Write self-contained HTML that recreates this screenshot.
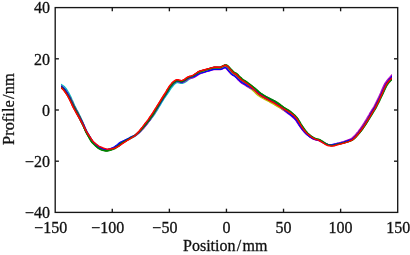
<!DOCTYPE html>
<html><head><meta charset="utf-8"><style>
html,body{margin:0;padding:0;background:#fff;}
svg{display:block;filter:grayscale(0) blur(0.35px);}
text{font-family:"Liberation Serif",serif;font-size:16px;fill:#111;stroke:#111;stroke-width:0.3px;}
</style></head><body>
<svg width="410" height="255" viewBox="0 0 410 255">
<rect width="410" height="255" fill="#fff"/>
<clipPath id="c"><rect x="60.9" y="0" width="331.2" height="255"/></clipPath>
<g fill="none" stroke-width="1.4" stroke-linejoin="round" stroke-linecap="butt" clip-path="url(#c)">
<path d="M57.0,84.9 L58.0,85.2 L59.0,85.6 L60.0,86.1 L61.0,86.5 L62.0,87.1 L63.0,87.8 L64.0,88.8 L65.0,90.0 L65.9,91.4 L66.9,92.9 L67.8,94.6 L68.7,96.3 L69.6,98.2 L70.5,100.2 L71.4,102.3 L72.3,104.4 L73.3,106.5 L74.3,108.5 L75.2,110.3 L76.2,112.2 L77.2,114.0 L78.2,115.8 L79.2,117.7 L80.2,119.6 L81.2,121.6 L82.3,123.6 L83.3,125.7 L84.3,128.0 L85.4,130.2 L86.4,132.3 L87.5,134.0 L88.5,135.7 L89.6,137.4 L90.6,139.1 L91.6,140.7 L92.7,142.1 L93.7,143.1 L94.7,144.0 L95.7,144.9 L96.7,145.8 L97.7,146.7 L98.8,147.4 L99.8,147.9 L100.8,148.3 L101.9,148.8 L102.9,149.2 L104.0,149.4 L105.0,149.5 L106.0,149.7 L107.0,149.8 L108.0,149.5 L109.0,149.2 L109.9,148.9 L110.9,148.5 L111.8,148.1 L112.8,147.7 L113.7,147.3 L114.6,146.7 L115.5,146.0 L116.4,145.4 L117.3,144.7 L118.2,143.9 L119.2,143.1 L120.2,142.4 L121.3,141.8 L122.4,141.3 L123.5,140.8 L124.6,140.3 L125.6,139.8 L126.7,139.3 L127.7,138.8 L128.7,138.3 L129.7,137.7 L130.7,137.2 L131.7,136.7 L132.7,136.2 L133.8,135.8 L134.8,135.3 L135.9,134.6 L137.0,133.9 L138.1,133.1 L139.1,132.3 L140.2,131.3 L141.3,130.3 L142.4,129.2 L143.4,128.1 L144.4,126.9 L145.4,125.6 L146.4,124.3 L147.4,123.1 L148.4,121.8 L149.4,120.5 L150.4,119.1 L151.4,117.6 L152.4,116.2 L153.4,114.7 L154.4,113.2 L155.4,111.6 L156.4,109.9 L157.4,108.2 L158.3,106.5 L159.3,104.9 L160.3,103.2 L161.3,101.5 L162.2,99.8 L163.2,98.2 L164.2,96.6 L165.2,95.1 L166.2,93.6 L167.2,92.0 L168.2,90.3 L169.2,88.7 L170.2,87.2 L171.2,85.9 L172.2,84.7 L173.2,83.6 L174.1,82.7 L175.1,82.0 L176.0,81.3 L177.0,80.9 L178.0,81.0 L179.0,81.3 L180.0,81.6 L181.0,81.9 L182.1,82.0 L183.1,81.6 L184.2,81.1 L185.2,80.5 L186.2,79.9 L187.2,79.2 L188.2,78.5 L189.2,78.0 L190.2,77.7 L191.2,77.5 L192.2,77.2 L193.2,76.9 L194.3,76.4 L195.3,75.7 L196.3,75.0 L197.3,74.4 L198.3,73.7 L199.3,73.2 L200.3,72.8 L201.3,72.5 L202.2,72.2 L203.2,72.0 L204.3,71.7 L205.3,71.5 L206.3,71.2 L207.3,71.0 L208.3,70.7 L209.3,70.5 L210.3,70.2 L211.3,69.9 L212.2,69.7 L213.2,69.4 L214.1,69.2 L215.1,69.1 L216.0,69.1 L217.0,69.0 L218.1,69.0 L219.1,69.0 L220.2,69.0 L221.3,68.7 L222.3,68.3 L223.3,67.8 L224.1,67.4 L224.9,67.1 L225.6,67.2 L226.4,67.8 L227.3,68.8 L228.2,70.0 L229.1,71.2 L230.1,72.4 L231.1,73.5 L232.1,74.5 L233.1,75.1 L234.1,75.6 L235.0,76.3 L236.0,77.2 L237.0,78.2 L237.9,79.2 L239.0,80.3 L240.0,81.3 L241.0,82.1 L242.1,82.8 L243.1,83.4 L244.1,84.1 L245.1,84.7 L246.1,85.4 L247.1,86.1 L248.1,86.7 L249.3,87.3 L250.4,87.9 L251.5,88.5 L252.7,89.2 L253.8,89.8 L255.0,90.6 L256.1,91.3 L257.2,92.1 L258.3,92.8 L259.3,93.4 L260.4,94.0 L261.4,94.6 L262.4,95.2 L263.4,95.8 L264.4,96.4 L265.4,97.0 L266.3,97.6 L267.3,98.2 L268.3,98.7 L269.3,99.2 L270.3,99.8 L271.3,100.3 L272.3,100.8 L273.3,101.3 L274.3,101.9 L275.3,102.5 L276.3,103.2 L277.2,104.0 L278.2,104.8 L279.1,105.7 L279.9,106.5 L280.8,107.4 L281.8,108.2 L282.7,109.0 L283.6,109.7 L284.6,110.4 L285.5,111.1 L286.5,111.8 L287.4,112.5 L288.4,113.3 L289.4,114.0 L290.3,114.7 L291.3,115.5 L292.2,116.3 L293.2,117.1 L294.1,118.1 L295.1,119.1 L296.1,120.3 L297.1,121.8 L298.2,123.4 L299.2,125.0 L300.3,126.5 L301.3,127.9 L302.4,129.3 L303.4,130.5 L304.4,131.7 L305.5,132.9 L306.5,133.9 L307.5,134.8 L308.6,135.7 L309.6,136.5 L310.7,137.2 L311.7,137.8 L312.8,138.4 L313.8,138.9 L314.9,139.2 L315.9,139.5 L316.9,139.7 L317.9,139.9 L318.9,140.2 L319.9,140.6 L320.9,141.1 L321.9,141.7 L322.9,142.3 L323.9,142.8 L325.0,143.4 L326.0,143.8 L327.0,144.2 L328.1,144.5 L329.1,144.6 L330.1,144.7 L331.0,144.7 L332.0,144.6 L332.9,144.4 L333.9,144.2 L334.8,144.0 L335.8,143.8 L336.8,143.5 L337.8,143.3 L338.8,143.1 L339.9,142.9 L340.9,142.7 L341.9,142.4 L342.9,142.2 L343.9,141.9 L344.8,141.6 L345.8,141.3 L346.8,141.0 L347.8,140.7 L348.8,140.3 L349.8,139.9 L350.8,139.5 L351.7,139.0 L352.7,138.4 L353.7,137.6 L354.7,136.7 L355.7,135.6 L356.8,134.5 L357.8,133.4 L358.8,132.1 L359.8,130.8 L360.8,129.5 L361.8,128.2 L362.9,126.8 L363.9,125.3 L364.9,123.8 L366.0,122.2 L367.0,120.6 L368.0,119.0 L369.0,117.3 L370.0,115.6 L371.0,113.9 L372.0,112.1 L373.0,110.6 L374.0,109.0 L375.0,107.4 L376.0,105.4 L377.0,103.4 L378.0,101.4 L378.9,99.3 L379.9,97.2 L380.9,95.2 L381.8,93.0 L382.8,90.8 L383.7,88.6 L384.7,86.5 L385.7,84.6 L386.6,83.0 L387.6,81.6 L388.6,80.3 L389.5,79.1 L390.5,78.1 L391.5,77.1 L392.5,76.0 L393.5,74.9 L394.6,73.8 L395.6,72.9" stroke="#0000ff"/>
<path d="M56.9,85.1 L57.9,85.5 L58.9,85.9 L59.8,86.4 L60.8,86.8 L61.8,87.4 L62.8,88.1 L63.8,89.0 L64.7,90.2 L65.7,91.6 L66.7,93.0 L67.7,94.6 L68.7,96.3 L69.6,98.1 L70.6,100.2 L71.6,102.2 L72.6,104.3 L73.5,106.4 L74.5,108.3 L75.5,110.2 L76.5,112.0 L77.4,113.9 L78.4,115.7 L79.3,117.6 L80.3,119.6 L81.2,121.6 L82.2,123.6 L83.2,125.8 L84.2,128.0 L85.1,130.3 L86.1,132.4 L87.1,134.2 L88.0,136.0 L89.0,137.7 L90.0,139.5 L91.0,141.2 L92.0,142.6 L93.1,143.6 L94.1,144.6 L95.1,145.5 L96.2,146.5 L97.2,147.4 L98.2,148.2 L99.3,148.8 L100.4,149.3 L101.5,149.8 L102.5,150.3 L103.6,150.6 L104.7,150.8 L105.9,151.0 L107.0,151.1 L108.1,150.9 L109.2,150.6 L110.3,150.3 L111.3,150.0 L112.3,149.7 L113.4,149.3 L114.4,148.9 L115.4,148.3 L116.4,147.7 L117.4,147.0 L118.4,146.3 L119.3,145.6 L120.3,144.8 L121.3,144.0 L122.3,143.3 L123.3,142.6 L124.2,142.0 L125.2,141.4 L126.2,140.8 L127.2,140.2 L128.2,139.7 L129.2,139.1 L130.2,138.6 L131.2,138.0 L132.2,137.5 L133.2,136.9 L134.1,136.4 L135.1,135.7 L136.1,134.9 L137.1,134.1 L138.2,133.2 L139.2,132.3 L140.2,131.2 L141.2,130.1 L142.2,129.0 L143.2,127.9 L144.2,126.7 L145.2,125.4 L146.2,124.2 L147.2,123.0 L148.3,121.7 L149.3,120.4 L150.3,119.0 L151.3,117.6 L152.3,116.1 L153.3,114.6 L154.3,113.1 L155.3,111.5 L156.3,109.8 L157.3,108.2 L158.3,106.5 L159.3,104.8 L160.3,103.2 L161.2,101.5 L162.2,99.8 L163.1,98.1 L164.1,96.5 L165.0,95.0 L166.0,93.4 L166.9,91.8 L167.9,90.1 L168.9,88.5 L169.9,86.9 L170.9,85.7 L171.9,84.5 L173.0,83.4 L174.0,82.5 L175.0,81.8 L176.0,81.2 L177.0,80.8 L178.0,80.9 L179.0,81.1 L180.0,81.3 L181.0,81.5 L182.0,81.5 L183.0,81.1 L183.9,80.6 L184.9,80.1 L185.9,79.4 L186.9,78.7 L187.9,78.0 L188.9,77.4 L189.9,77.1 L190.9,76.8 L191.9,76.4 L192.9,76.1 L193.8,75.6 L194.8,74.9 L195.8,74.2 L196.8,73.5 L197.8,72.8 L198.8,72.1 L199.8,71.7 L200.8,71.3 L201.8,71.0 L202.9,70.8 L203.9,70.5 L204.9,70.2 L205.9,69.9 L206.9,69.6 L207.9,69.3 L208.9,69.0 L209.9,68.6 L210.9,68.3 L211.9,68.0 L212.9,67.7 L213.9,67.5 L214.9,67.4 L216.0,67.5 L217.0,67.5 L218.0,67.5 L218.9,67.5 L219.9,67.4 L220.8,67.0 L221.7,66.5 L222.7,66.0 L223.9,65.3 L225.1,64.9 L226.5,65.0 L227.8,65.7 L229.0,66.9 L230.1,68.1 L231.2,69.3 L232.2,70.3 L233.1,71.2 L234.0,72.1 L235.0,72.7 L236.0,73.1 L237.0,73.8 L238.1,74.8 L239.1,75.9 L240.2,76.9 L241.2,77.8 L242.1,78.7 L243.1,79.5 L244.0,80.1 L245.0,80.7 L246.0,81.3 L247.0,82.0 L248.0,82.7 L249.0,83.5 L250.0,84.3 L251.0,85.1 L252.0,85.9 L253.1,86.7 L254.1,87.5 L255.1,88.3 L256.1,89.2 L257.1,90.1 L258.1,91.0 L259.0,91.9 L260.0,92.6 L260.9,93.3 L261.8,93.9 L262.8,94.6 L263.8,95.2 L264.7,95.8 L265.7,96.4 L266.7,96.9 L267.7,97.4 L268.7,97.9 L269.7,98.4 L270.7,98.9 L271.8,99.4 L272.8,99.9 L273.8,100.4 L274.9,100.9 L275.9,101.5 L277.0,102.2 L278.0,102.9 L279.0,103.6 L280.0,104.4 L280.9,105.1 L281.9,105.8 L282.9,106.5 L283.8,107.2 L284.8,107.9 L285.8,108.5 L286.8,109.1 L287.9,109.7 L288.9,110.4 L289.9,111.1 L290.9,111.9 L291.9,112.7 L292.9,113.5 L293.9,114.4 L294.9,115.3 L295.9,116.5 L297.0,117.6 L298.0,118.9 L299.0,120.5 L300.0,122.1 L301.0,123.8 L302.0,125.3 L302.9,126.8 L303.9,128.1 L304.8,129.4 L305.7,130.6 L306.6,131.8 L307.5,132.9 L308.5,133.8 L309.4,134.6 L310.4,135.5 L311.4,136.2 L312.3,136.8 L313.3,137.5 L314.3,138.0 L315.2,138.3 L316.2,138.6 L317.2,138.9 L318.2,139.2 L319.2,139.5 L320.2,139.9 L321.2,140.5 L322.2,141.1 L323.2,141.7 L324.2,142.4 L325.1,143.0 L326.1,143.6 L327.1,144.2 L328.0,144.6 L329.0,144.9 L330.0,145.1 L331.0,145.2 L332.0,145.2 L333.0,145.1 L334.0,144.9 L335.0,144.6 L336.0,144.4 L337.0,144.1 L338.0,144.0 L339.0,143.8 L340.0,143.6 L341.0,143.4 L342.0,143.2 L343.1,142.9 L344.1,142.6 L345.1,142.3 L346.1,142.0 L347.1,141.6 L348.1,141.3 L349.1,141.0 L350.1,140.6 L351.2,140.3 L352.2,139.8 L353.3,139.1 L354.3,138.3 L355.4,137.4 L356.4,136.3 L357.5,135.1 L358.5,134.0 L359.6,132.8 L360.6,131.5 L361.7,130.1 L362.7,128.8 L363.7,127.3 L364.8,125.9 L365.8,124.4 L366.8,122.8 L367.9,121.2 L368.9,119.5 L369.9,117.9 L370.9,116.2 L372.0,114.5 L373.0,112.8 L374.0,111.2 L375.0,109.6 L376.0,108.0 L377.0,106.0 L378.0,104.0 L379.1,101.9 L380.0,99.9 L381.0,97.8 L382.0,95.7 L383.0,93.6 L384.0,91.4 L385.0,89.2 L386.0,87.2 L386.9,85.4 L388.0,83.8 L389.0,82.6 L390.0,81.5 L391.0,80.4 L392.0,79.5 L393.0,78.6 L394.0,77.6 L395.0,76.7 L395.8,75.7 L396.7,74.9" stroke="#008000"/>
<path d="M56.7,86.0 L57.6,86.4 L58.5,86.8 L59.4,87.2 L60.3,87.6 L61.2,88.1 L62.2,88.7 L63.1,89.6 L64.1,90.7 L65.1,92.0 L66.1,93.5 L67.1,95.0 L68.0,96.7 L69.0,98.5 L70.0,100.5 L71.0,102.5 L71.9,104.6 L72.9,106.7 L73.9,108.7 L74.9,110.5 L75.9,112.3 L76.9,114.1 L77.9,115.9 L79.0,117.8 L80.0,119.7 L81.0,121.7 L82.1,123.7 L83.2,125.8 L84.2,128.0 L85.3,130.2 L86.3,132.3 L87.4,134.0 L88.5,135.7 L89.5,137.4 L90.6,139.1 L91.7,140.6 L92.8,141.9 L93.9,142.8 L95.0,143.7 L96.1,144.5 L97.1,145.3 L98.2,146.1 L99.2,146.8 L100.2,147.2 L101.2,147.7 L102.2,148.1 L103.1,148.6 L104.1,148.9 L105.1,149.1 L106.0,149.4 L107.0,149.7 L108.0,149.6 L109.0,149.5 L110.0,149.4 L111.1,149.2 L112.1,149.0 L113.1,148.7 L114.2,148.4 L115.2,148.0 L116.3,147.4 L117.3,146.9 L118.3,146.3 L119.4,145.6 L120.4,144.9 L121.4,144.1 L122.4,143.4 L123.3,142.8 L124.3,142.1 L125.3,141.5 L126.2,140.9 L127.2,140.2 L128.1,139.6 L129.1,139.0 L130.0,138.3 L131.0,137.7 L131.9,137.1 L132.9,136.5 L133.9,135.9 L134.8,135.3 L135.7,134.4 L136.7,133.5 L137.6,132.6 L138.6,131.7 L139.6,130.7 L140.5,129.5 L141.5,128.4 L142.5,127.3 L143.5,126.1 L144.4,124.8 L145.4,123.5 L146.4,122.3 L147.3,121.0 L148.3,119.7 L149.3,118.3 L150.2,116.8 L151.2,115.3 L152.2,113.9 L153.2,112.4 L154.2,110.8 L155.2,109.1 L156.2,107.5 L157.2,105.8 L158.2,104.2 L159.2,102.5 L160.2,100.9 L161.2,99.2 L162.2,97.6 L163.2,96.0 L164.2,94.5 L165.3,93.0 L166.3,91.4 L167.3,89.7 L168.3,88.1 L169.3,86.5 L170.3,85.2 L171.4,84.0 L172.4,82.8 L173.5,81.9 L174.6,81.1 L175.7,80.4 L176.8,80.0 L178.0,80.1 L179.0,80.3 L180.0,80.6 L181.0,80.8 L181.8,80.7 L182.7,80.3 L183.6,79.8 L184.5,79.3 L185.5,78.6 L186.5,77.8 L187.5,77.1 L188.6,76.6 L189.6,76.3 L190.6,76.1 L191.7,75.9 L192.6,75.6 L193.6,75.1 L194.6,74.5 L195.5,73.8 L196.5,73.1 L197.5,72.4 L198.6,71.7 L199.6,71.2 L200.6,70.8 L201.7,70.5 L202.7,70.2 L203.7,69.9 L204.7,69.7 L205.7,69.4 L206.7,69.1 L207.8,68.8 L208.8,68.6 L209.8,68.3 L210.8,68.0 L211.8,67.7 L212.9,67.4 L213.9,67.2 L214.9,67.2 L216.0,67.2 L217.0,67.2 L217.9,67.3 L218.9,67.3 L219.8,67.3 L220.8,67.1 L221.8,66.7 L222.8,66.2 L223.9,65.7 L225.1,65.4 L226.2,65.7 L227.3,66.4 L228.3,67.6 L229.4,68.8 L230.4,70.0 L231.4,71.1 L232.3,72.0 L233.3,72.9 L234.4,73.5 L235.4,73.9 L236.4,74.6 L237.4,75.6 L238.4,76.7 L239.4,77.7 L240.3,78.7 L241.3,79.7 L242.3,80.5 L243.3,81.1 L244.3,81.7 L245.2,82.3 L246.2,83.0 L247.3,83.7 L248.3,84.5 L249.3,85.2 L250.3,86.0 L251.2,86.9 L252.2,87.8 L253.1,88.7 L254.0,89.6 L254.9,90.6 L255.8,91.6 L256.8,92.6 L257.7,93.5 L258.7,94.3 L259.7,95.0 L260.7,95.6 L261.7,96.3 L262.7,96.9 L263.7,97.5 L264.7,98.1 L265.7,98.7 L266.7,99.2 L267.7,99.8 L268.7,100.3 L269.7,100.9 L270.7,101.4 L271.7,102.0 L272.7,102.5 L273.7,103.0 L274.7,103.6 L275.6,104.3 L276.6,104.9 L277.7,105.6 L278.7,106.2 L279.7,106.9 L280.7,107.5 L281.8,108.1 L282.8,108.7 L283.9,109.3 L284.9,109.8 L286.0,110.4 L287.0,111.0 L288.0,111.7 L289.0,112.4 L290.0,113.1 L291.0,113.8 L292.0,114.6 L292.9,115.5 L293.9,116.3 L294.9,117.4 L295.9,118.5 L296.9,119.7 L297.9,121.2 L298.9,122.9 L299.9,124.5 L300.9,126.1 L301.9,127.5 L302.9,128.9 L303.9,130.1 L304.9,131.3 L305.9,132.5 L306.9,133.5 L307.9,134.4 L308.9,135.3 L309.8,136.2 L310.8,136.9 L311.8,137.7 L312.8,138.4 L313.8,138.9 L314.8,139.2 L315.9,139.5 L316.9,139.8 L317.9,140.0 L318.9,140.3 L319.8,140.7 L320.8,141.3 L321.8,141.9 L322.8,142.5 L323.8,143.1 L324.8,143.7 L325.8,144.2 L326.8,144.7 L327.9,145.2 L328.9,145.4 L329.9,145.6 L331.0,145.8 L332.0,145.8 L333.1,145.7 L334.1,145.5 L335.1,145.3 L336.1,145.0 L337.1,144.7 L338.1,144.4 L339.1,144.1 L340.1,143.8 L341.1,143.6 L342.1,143.2 L343.1,142.9 L344.1,142.6 L345.1,142.3 L346.1,142.0 L347.1,141.6 L348.0,141.2 L349.0,140.8 L350.0,140.4 L351.0,140.0 L352.0,139.4 L352.9,138.7 L353.9,137.8 L354.9,136.8 L355.9,135.7 L356.9,134.6 L357.9,133.4 L358.9,132.2 L359.9,130.9 L360.9,129.6 L361.9,128.2 L362.9,126.8 L363.9,125.3 L364.9,123.8 L365.8,122.2 L366.8,120.5 L367.8,118.8 L368.7,117.2 L369.7,115.5 L370.7,113.7 L371.7,112.0 L372.7,110.4 L373.7,108.9 L374.7,107.3 L375.8,105.3 L376.8,103.3 L377.8,101.3 L378.8,99.3 L379.9,97.2 L380.9,95.2 L382.0,93.1 L383.1,90.9 L384.1,88.8 L385.1,86.7 L386.1,84.9 L387.1,83.3 L388.1,82.0 L389.1,80.8 L390.1,79.6 L391.1,78.6 L392.1,77.7 L393.1,76.7 L394.1,75.6 L395.1,74.6 L396.1,73.8" stroke="#ff0000"/>
<path d="M57.4,82.9 L58.5,83.3 L59.7,83.8 L60.9,84.4 L62.0,85.0 L63.1,85.7 L64.2,86.5 L65.2,87.6 L66.3,88.9 L67.3,90.5 L68.2,92.0 L69.2,93.7 L70.1,95.5 L71.0,97.4 L71.9,99.5 L72.9,101.6 L73.8,103.7 L74.7,105.8 L75.7,107.7 L76.6,109.6 L77.6,111.4 L78.6,113.2 L79.5,115.1 L80.5,117.0 L81.4,119.0 L82.3,121.1 L83.2,123.1 L84.0,125.4 L84.9,127.7 L85.8,130.0 L86.8,132.1 L87.7,133.9 L88.7,135.6 L89.8,137.2 L90.8,138.9 L91.9,140.5 L93.0,141.8 L94.0,142.7 L95.1,143.6 L96.1,144.4 L97.1,145.3 L98.1,146.2 L99.1,146.9 L100.1,147.4 L101.1,147.9 L102.0,148.4 L103.0,148.9 L104.0,149.1 L105.0,149.4 L106.0,149.6 L107.0,149.7 L108.0,149.6 L109.0,149.3 L110.0,149.1 L111.0,148.9 L112.0,148.6 L113.0,148.3 L113.9,147.9 L114.9,147.4 L115.9,146.8 L116.9,146.2 L117.9,145.6 L118.9,144.9 L119.9,144.2 L120.9,143.5 L122.0,142.8 L123.0,142.2 L124.0,141.7 L125.0,141.1 L126.0,140.6 L127.0,140.0 L128.1,139.5 L129.1,139.0 L130.1,138.5 L131.1,138.0 L132.2,137.5 L133.2,137.0 L134.3,136.5 L135.3,136.0 L136.3,135.2 L137.4,134.3 L138.4,133.5 L139.4,132.5 L140.4,131.5 L141.4,130.3 L142.4,129.2 L143.4,128.1 L144.4,126.9 L145.4,125.6 L146.5,124.4 L147.5,123.1 L148.5,121.9 L149.6,120.7 L150.7,119.3 L151.8,117.9 L152.8,116.5 L153.9,115.0 L155.0,113.5 L156.0,111.9 L157.0,110.3 L158.0,108.6 L159.0,106.9 L160.0,105.3 L161.0,103.6 L162.0,101.9 L163.0,100.3 L164.0,98.7 L165.1,97.2 L166.1,95.7 L167.2,94.2 L168.2,92.6 L169.3,91.0 L170.3,89.4 L171.3,87.9 L172.3,86.8 L173.2,85.6 L174.1,84.6 L175.0,83.8 L175.8,83.2 L176.6,82.7 L177.3,82.4 L178.1,82.6 L178.9,82.9 L179.9,83.1 L181.1,83.4 L182.3,83.4 L183.5,82.9 L184.7,82.3 L185.9,81.7 L186.9,81.0 L187.8,80.2 L188.7,79.5 L189.6,78.9 L190.5,78.5 L191.5,78.2 L192.4,77.8 L193.4,77.3 L194.5,76.7 L195.5,76.0 L196.4,75.2 L197.4,74.5 L198.3,73.8 L199.3,73.1 L200.2,72.6 L201.2,72.3 L202.2,72.0 L203.1,71.7 L204.1,71.3 L205.1,71.0 L206.1,70.7 L207.1,70.4 L208.1,70.0 L209.1,69.7 L210.1,69.4 L211.1,69.1 L212.0,68.8 L213.0,68.5 L214.0,68.2 L215.0,68.2 L216.0,68.1 L217.0,68.1 L218.0,68.2 L219.0,68.2 L220.0,68.2 L221.0,67.8 L222.0,67.5 L223.0,67.0 L224.0,66.5 L225.0,66.2 L225.9,66.4 L226.9,67.0 L227.9,68.1 L228.9,69.3 L229.9,70.5 L230.9,71.6 L231.9,72.5 L232.9,73.5 L233.9,74.1 L234.9,74.5 L235.9,75.3 L236.8,76.3 L237.8,77.3 L238.8,78.3 L239.8,79.3 L240.8,80.3 L241.9,81.0 L242.9,81.6 L243.9,82.2 L245.0,82.8 L246.0,83.4 L247.0,84.1 L248.0,84.8 L249.0,85.5 L250.0,86.3 L251.0,87.1 L252.0,87.9 L253.0,88.7 L254.0,89.6 L255.1,90.4 L256.1,91.3 L257.1,92.2 L258.1,93.1 L259.1,93.8 L260.1,94.5 L261.0,95.2 L262.0,95.9 L263.0,96.5 L264.0,97.1 L265.0,97.7 L266.0,98.3 L267.0,98.8 L268.0,99.3 L269.0,99.8 L270.0,100.3 L271.0,100.9 L272.0,101.4 L273.0,101.9 L274.0,102.5 L275.0,103.1 L276.0,103.8 L276.9,104.5 L277.9,105.2 L278.9,105.8 L279.9,106.5 L281.0,107.2 L282.0,107.9 L283.0,108.5 L284.0,109.2 L284.9,109.8 L285.9,110.5 L286.9,111.1 L287.9,111.8 L288.9,112.5 L289.9,113.2 L290.9,113.9 L292.0,114.7 L293.0,115.4 L294.0,116.3 L295.0,117.3 L296.0,118.4 L297.0,119.6 L298.0,121.2 L298.9,122.9 L299.9,124.6 L300.9,126.1 L301.8,127.5 L302.8,128.9 L303.8,130.2 L304.9,131.4 L305.9,132.5 L306.9,133.5 L307.9,134.3 L309.0,135.2 L310.0,136.0 L311.0,136.7 L312.0,137.4 L313.0,138.1 L314.0,138.6 L315.0,139.0 L316.0,139.3 L317.0,139.5 L318.0,139.8 L319.0,140.1 L319.9,140.5 L320.9,141.0 L321.9,141.6 L322.9,142.2 L324.0,142.8 L325.0,143.4 L326.0,143.9 L327.0,144.4 L328.0,144.8 L329.0,145.0 L330.0,145.2 L331.0,145.3 L332.0,145.3 L333.0,145.1 L334.0,145.0 L335.0,144.7 L336.0,144.5 L337.0,144.3 L338.0,144.0 L339.0,143.8 L340.0,143.6 L341.0,143.3 L342.0,143.1 L343.0,142.8 L344.0,142.5 L345.0,142.2 L346.0,141.9 L347.0,141.6 L348.1,141.3 L349.1,140.9 L350.1,140.5 L351.1,140.1 L352.1,139.6 L353.1,139.0 L354.2,138.1 L355.2,137.2 L356.2,136.1 L357.3,135.0 L358.3,133.8 L359.3,132.5 L360.3,131.2 L361.3,129.9 L362.2,128.5 L363.2,127.0 L364.2,125.5 L365.2,124.0 L366.2,122.4 L367.3,120.8 L368.3,119.2 L369.4,117.6 L370.4,115.9 L371.4,114.1 L372.4,112.4 L373.5,110.9 L374.5,109.3 L375.5,107.7 L376.5,105.7 L377.5,103.7 L378.5,101.7 L379.5,99.6 L380.5,97.5 L381.5,95.5 L382.5,93.3 L383.5,91.1 L384.5,89.0 L385.5,86.9 L386.5,85.1 L387.5,83.5 L388.5,82.3 L389.5,81.1 L390.5,80.0 L391.5,79.0 L392.5,78.1 L393.5,77.1 L394.4,76.0 L395.4,75.0 L396.3,74.2" stroke="#00bfbf"/>
<path d="M57.1,84.4 L58.1,84.7 L59.2,85.1 L60.2,85.6 L61.3,86.1 L62.3,86.7 L63.3,87.5 L64.3,88.6 L65.2,89.8 L66.2,91.2 L67.2,92.7 L68.2,94.3 L69.2,96.0 L70.2,97.9 L71.2,99.9 L72.2,101.9 L73.1,104.0 L74.1,106.1 L75.1,108.0 L76.1,109.9 L77.1,111.7 L78.0,113.5 L79.0,115.4 L80.0,117.2 L81.0,119.2 L82.0,121.2 L83.0,123.2 L84.0,125.4 L85.0,127.6 L86.0,129.9 L87.0,131.9 L88.0,133.7 L89.0,135.4 L90.0,137.1 L91.0,138.8 L92.0,140.4 L93.0,141.8 L93.9,142.8 L94.9,143.7 L95.9,144.7 L96.9,145.6 L97.9,146.4 L98.9,147.1 L99.9,147.6 L101.0,148.1 L102.0,148.6 L103.0,149.0 L104.0,149.2 L105.0,149.4 L106.0,149.5 L107.0,149.6 L108.0,149.4 L109.0,149.2 L109.9,148.9 L110.9,148.7 L111.9,148.4 L112.9,148.1 L113.9,147.7 L114.8,147.2 L115.8,146.6 L116.8,146.0 L117.7,145.4 L118.7,144.6 L119.7,143.8 L120.7,143.1 L121.7,142.4 L122.7,141.8 L123.8,141.3 L124.8,140.7 L125.8,140.2 L126.9,139.8 L127.9,139.3 L129.0,138.8 L130.0,138.3 L131.0,137.8 L132.1,137.4 L133.1,136.9 L134.2,136.4 L135.2,135.8 L136.3,135.1 L137.3,134.3 L138.4,133.5 L139.4,132.6 L140.5,131.5 L141.5,130.4 L142.5,129.3 L143.6,128.2 L144.6,127.0 L145.6,125.7 L146.6,124.5 L147.6,123.2 L148.6,121.9 L149.6,120.6 L150.6,119.2 L151.6,117.7 L152.5,116.2 L153.5,114.8 L154.5,113.2 L155.5,111.6 L156.4,109.9 L157.4,108.2 L158.4,106.5 L159.3,104.9 L160.3,103.2 L161.3,101.5 L162.3,99.9 L163.3,98.2 L164.4,96.7 L165.4,95.2 L166.3,93.7 L167.3,92.0 L168.3,90.4 L169.2,88.7 L170.2,87.2 L171.2,85.9 L172.2,84.7 L173.2,83.6 L174.2,82.8 L175.2,82.2 L176.2,81.6 L177.1,81.3 L178.0,81.5 L179.0,81.8 L180.0,82.2 L181.0,82.5 L182.1,82.5 L183.3,82.1 L184.4,81.6 L185.5,81.0 L186.5,80.4 L187.5,79.7 L188.5,79.0 L189.4,78.5 L190.4,78.3 L191.4,78.0 L192.5,77.8 L193.5,77.6 L194.6,77.1 L195.7,76.4 L196.8,75.8 L197.8,75.1 L198.7,74.5 L199.7,73.9 L200.6,73.5 L201.5,73.2 L202.5,72.9 L203.4,72.6 L204.4,72.3 L205.4,72.0 L206.4,71.7 L207.4,71.4 L208.4,71.1 L209.4,70.8 L210.4,70.5 L211.3,70.2 L212.3,69.9 L213.2,69.7 L214.2,69.5 L215.1,69.5 L216.1,69.5 L217.0,69.5 L218.1,69.6 L219.2,69.6 L220.3,69.6 L221.4,69.3 L222.5,68.9 L223.4,68.4 L224.2,68.0 L224.8,67.7 L225.4,67.8 L226.1,68.4 L226.9,69.3 L227.8,70.4 L228.8,71.6 L229.8,72.7 L230.9,73.7 L231.9,74.7 L232.9,75.3 L233.9,75.7 L234.9,76.4 L235.9,77.4 L236.8,78.4 L237.7,79.4 L238.8,80.5 L239.8,81.5 L240.8,82.4 L241.8,83.1 L242.9,83.8 L243.9,84.4 L244.9,85.0 L245.9,85.7 L246.9,86.4 L247.9,87.0 L249.0,87.6 L250.1,88.3 L251.2,88.9 L252.3,89.6 L253.5,90.2 L254.6,91.0 L255.7,91.8 L256.8,92.6 L257.8,93.4 L258.8,94.1 L259.8,94.8 L260.8,95.5 L261.8,96.2 L262.8,96.8 L263.8,97.4 L264.8,97.9 L265.8,98.5 L266.9,99.0 L267.9,99.5 L268.9,100.0 L269.9,100.5 L270.9,101.0 L271.9,101.6 L272.9,102.1 L273.8,102.7 L274.8,103.4 L275.7,104.1 L276.7,104.9 L277.6,105.6 L278.6,106.4 L279.5,107.2 L280.5,107.9 L281.4,108.7 L282.4,109.4 L283.4,110.1 L284.3,110.8 L285.3,111.5 L286.2,112.2 L287.2,112.9 L288.2,113.6 L289.1,114.3 L290.1,115.0 L291.0,115.8 L292.0,116.6 L292.9,117.4 L293.9,118.3 L294.9,119.3 L295.9,120.4 L296.9,121.9 L297.9,123.6 L299.0,125.2 L300.0,126.7 L301.0,128.1 L302.1,129.5 L303.1,130.8 L304.2,132.0 L305.2,133.1 L306.3,134.1 L307.4,135.0 L308.4,135.8 L309.5,136.6 L310.6,137.3 L311.6,138.0 L312.7,138.7 L313.7,139.2 L314.7,139.6 L315.8,139.9 L316.8,140.2 L317.7,140.4 L318.7,140.6 L319.7,141.0 L320.7,141.5 L321.7,142.0 L322.8,142.5 L323.8,143.0 L324.9,143.5 L325.9,144.0 L327.0,144.3 L328.0,144.7 L329.0,144.8 L330.0,144.9 L331.0,145.0 L332.0,144.9 L333.0,144.7 L333.9,144.5 L334.9,144.2 L335.9,143.9 L336.9,143.6 L337.8,143.4 L338.8,143.1 L339.8,142.8 L340.8,142.5 L341.8,142.2 L342.8,141.9 L343.7,141.6 L344.7,141.2 L345.7,140.8 L346.7,140.5 L347.6,140.1 L348.6,139.7 L349.5,139.4 L350.5,139.0 L351.4,138.5 L352.3,137.8 L353.2,137.0 L354.2,136.1 L355.1,135.1 L356.1,134.0 L357.1,132.8 L358.1,131.6 L359.1,130.3 L360.1,129.0 L361.0,127.6 L362.0,126.2 L363.0,124.7 L364.0,123.2 L364.9,121.6 L365.9,120.0 L366.9,118.4 L367.9,116.7 L368.9,115.0 L369.9,113.2 L370.9,111.5 L371.9,109.9 L372.9,108.4 L373.9,106.8 L374.9,104.9 L375.9,102.9 L376.9,100.9 L377.9,98.8 L378.9,96.7 L379.8,94.7 L380.8,92.5 L381.7,90.3 L382.7,88.1 L383.7,85.9 L384.6,84.0 L385.7,82.3 L386.7,80.9 L387.7,79.6 L388.7,78.4 L389.7,77.4 L390.7,76.3 L391.7,75.2 L392.8,74.0 L393.9,72.7 L395.0,71.7" stroke="#bf00bf"/>
<path d="M56.9,85.2 L57.9,85.6 L58.8,86.0 L59.8,86.5 L60.8,86.9 L61.7,87.5 L62.7,88.1 L63.7,89.1 L64.7,90.2 L65.7,91.6 L66.6,93.1 L67.6,94.7 L68.6,96.3 L69.6,98.1 L70.6,100.1 L71.7,102.2 L72.7,104.2 L73.7,106.3 L74.7,108.2 L75.7,110.1 L76.7,111.9 L77.7,113.7 L78.7,115.6 L79.7,117.4 L80.7,119.4 L81.7,121.4 L82.7,123.4 L83.7,125.5 L84.7,127.8 L85.7,130.0 L86.7,132.1 L87.7,133.9 L88.7,135.6 L89.7,137.3 L90.7,139.0 L91.7,140.7 L92.7,142.0 L93.7,143.0 L94.7,143.9 L95.8,144.8 L96.8,145.7 L97.8,146.6 L98.8,147.3 L99.8,147.9 L100.8,148.4 L101.8,148.9 L102.8,149.4 L103.9,149.7 L104.9,149.9 L106.0,150.1 L107.0,150.2 L108.0,150.0 L109.0,149.7 L110.1,149.5 L111.1,149.2 L112.0,148.8 L113.0,148.5 L114.0,148.1 L115.0,147.5 L116.0,146.9 L117.0,146.3 L117.9,145.7 L118.9,144.9 L119.9,144.2 L120.9,143.4 L121.9,142.7 L122.9,142.1 L123.9,141.5 L125.0,141.0 L126.0,140.4 L127.0,139.9 L128.0,139.4 L129.0,138.8 L130.0,138.3 L131.0,137.7 L132.0,137.2 L133.0,136.6 L134.0,136.1 L135.0,135.5 L136.0,134.7 L137.0,133.9 L138.0,133.1 L139.0,132.2 L140.0,131.1 L141.0,130.0 L142.0,128.9 L143.0,127.7 L144.0,126.5 L144.9,125.2 L145.9,124.0 L147.0,122.7 L148.0,121.5 L149.0,120.2 L150.0,118.8 L151.0,117.4 L152.1,115.9 L153.1,114.5 L154.1,113.0 L155.1,111.3 L156.1,109.7 L157.0,108.0 L158.0,106.3 L159.0,104.7 L160.0,103.0 L161.0,101.3 L162.0,99.7 L163.0,98.0 L164.0,96.5 L165.0,95.0 L166.0,93.4 L167.0,91.8 L168.0,90.2 L169.0,88.5 L169.9,87.0 L170.9,85.7 L171.9,84.5 L172.9,83.3 L173.9,82.4 L174.9,81.7 L176.0,81.1 L177.0,80.7 L178.0,80.9 L179.0,81.1 L180.0,81.4 L181.0,81.7 L182.0,81.7 L183.0,81.2 L184.0,80.8 L185.1,80.3 L186.1,79.6 L187.1,79.0 L188.1,78.4 L189.1,77.9 L190.1,77.6 L191.1,77.3 L192.1,77.0 L193.1,76.7 L194.1,76.1 L195.1,75.4 L196.1,74.7 L197.1,74.1 L198.2,73.4 L199.2,72.9 L200.2,72.5 L201.2,72.2 L202.1,71.9 L203.1,71.6 L204.1,71.3 L205.1,71.0 L206.1,70.6 L207.1,70.3 L208.1,70.0 L209.1,69.7 L210.1,69.5 L211.1,69.2 L212.1,68.9 L213.1,68.7 L214.0,68.5 L215.0,68.4 L216.0,68.5 L217.0,68.5 L218.0,68.5 L219.1,68.6 L220.1,68.6 L221.1,68.3 L222.2,67.9 L223.1,67.4 L224.1,67.0 L224.9,66.7 L225.8,66.9 L226.6,67.5 L227.5,68.6 L228.5,69.7 L229.4,70.9 L230.5,72.0 L231.6,73.0 L232.6,73.9 L233.6,74.4 L234.6,74.9 L235.6,75.6 L236.6,76.6 L237.5,77.6 L238.5,78.6 L239.5,79.7 L240.5,80.7 L241.5,81.5 L242.5,82.2 L243.5,82.8 L244.5,83.5 L245.5,84.1 L246.5,84.9 L247.4,85.6 L248.4,86.4 L249.4,87.1 L250.3,88.0 L251.3,88.9 L252.2,89.7 L253.1,90.7 L254.0,91.6 L255.0,92.6 L255.9,93.6 L256.9,94.5 L257.9,95.3 L259.0,96.0 L260.0,96.7 L261.1,97.4 L262.1,97.9 L263.1,98.5 L264.2,99.1 L265.2,99.6 L266.2,100.1 L267.2,100.7 L268.2,101.2 L269.3,101.7 L270.2,102.3 L271.2,102.8 L272.2,103.3 L273.2,103.9 L274.1,104.4 L275.1,105.1 L276.1,105.7 L277.1,106.3 L278.2,106.9 L279.3,107.5 L280.3,108.1 L281.4,108.7 L282.5,109.3 L283.5,109.8 L284.6,110.4 L285.6,111.0 L286.7,111.5 L287.7,112.2 L288.7,112.8 L289.8,113.4 L290.8,114.1 L291.8,114.8 L292.8,115.6 L293.8,116.5 L294.8,117.5 L295.7,118.6 L296.7,119.8 L297.7,121.4 L298.7,123.1 L299.7,124.7 L300.7,126.2 L301.7,127.6 L302.8,129.0 L303.8,130.3 L304.8,131.4 L305.8,132.6 L306.8,133.6 L307.8,134.5 L308.9,135.3 L309.9,136.1 L310.9,136.8 L312.0,137.4 L313.0,138.0 L314.0,138.5 L315.0,138.9 L316.0,139.2 L317.0,139.5 L317.9,139.8 L318.9,140.1 L319.9,140.6 L320.9,141.2 L321.9,141.7 L322.9,142.3 L323.9,142.8 L325.0,143.4 L326.0,143.9 L327.0,144.3 L328.0,144.7 L329.0,144.8 L330.0,145.0 L331.0,145.2 L332.0,145.2 L333.0,145.1 L334.0,144.9 L335.0,144.8 L336.0,144.5 L337.0,144.3 L338.0,144.2 L339.1,144.0 L340.1,143.7 L341.1,143.5 L342.1,143.3 L343.1,143.0 L344.1,142.8 L345.1,142.5 L346.1,142.2 L347.1,141.9 L348.2,141.6 L349.2,141.2 L350.2,140.8 L351.2,140.4 L352.3,139.9 L353.3,139.2 L354.3,138.3 L355.3,137.3 L356.3,136.1 L357.2,134.9 L358.2,133.7 L359.2,132.5 L360.2,131.2 L361.2,129.8 L362.2,128.4 L363.1,126.9 L364.1,125.5 L365.0,123.9 L366.0,122.3 L367.0,120.6 L367.9,119.0 L368.9,117.3 L370.0,115.6 L371.0,113.9 L372.0,112.2 L373.0,110.6 L374.1,109.1 L375.1,107.5 L376.1,105.5 L377.1,103.5 L378.1,101.5 L379.1,99.4 L380.1,97.4 L381.1,95.3 L382.1,93.1 L383.0,90.9 L384.0,88.7 L385.0,86.7 L385.9,84.8 L386.9,83.2 L387.9,81.9 L388.9,80.6 L389.9,79.5 L390.9,78.5 L391.9,77.5 L393.0,76.5 L394.0,75.5 L395.0,74.5 L396.0,73.6" stroke="#bfbf00"/>
<path d="M57.0,84.8 L58.0,85.2 L59.0,85.6 L60.0,86.0 L61.0,86.5 L62.0,87.1 L63.0,87.8 L64.0,88.8 L65.0,89.9 L66.0,91.3 L67.0,92.8 L68.0,94.4 L69.1,96.1 L70.1,97.9 L71.1,99.9 L72.1,102.0 L73.1,104.0 L74.1,106.1 L75.1,108.0 L76.1,109.9 L77.1,111.7 L78.1,113.5 L79.0,115.4 L80.0,117.2 L81.0,119.2 L82.0,121.2 L82.9,123.3 L83.9,125.4 L84.9,127.7 L86.0,129.9 L87.0,132.0 L88.0,133.7 L89.1,135.4 L90.1,137.1 L91.1,138.7 L92.1,140.4 L93.1,141.7 L94.0,142.7 L95.0,143.6 L96.0,144.5 L97.0,145.5 L98.0,146.3 L99.0,147.0 L100.0,147.5 L101.0,148.0 L102.0,148.5 L103.0,148.9 L104.0,149.2 L105.0,149.4 L106.0,149.6 L107.0,149.8 L108.0,149.6 L109.0,149.4 L110.0,149.2 L111.0,149.0 L112.0,148.7 L113.0,148.4 L114.0,148.0 L115.0,147.6 L116.0,147.0 L117.0,146.4 L118.0,145.8 L119.0,145.0 L120.0,144.3 L121.0,143.5 L122.0,142.8 L123.0,142.2 L124.0,141.6 L125.0,141.1 L126.0,140.5 L127.0,139.9 L128.0,139.4 L129.0,138.8 L130.0,138.3 L131.0,137.7 L132.0,137.2 L133.0,136.7 L134.0,136.1 L135.0,135.5 L136.0,134.8 L137.0,133.9 L138.0,133.1 L139.0,132.2 L140.0,131.1 L141.0,130.0 L142.0,128.8 L142.9,127.7 L143.9,126.4 L144.9,125.1 L145.8,123.9 L146.8,122.6 L147.8,121.3 L148.8,120.1 L149.8,118.7 L150.9,117.3 L151.9,115.8 L152.9,114.3 L153.9,112.9 L154.9,111.2 L155.9,109.6 L156.9,107.9 L157.9,106.3 L158.9,104.6 L159.9,103.0 L161.0,101.3 L162.0,99.7 L163.1,98.1 L164.1,96.5 L165.1,95.0 L166.1,93.5 L167.1,91.9 L168.1,90.3 L169.1,88.6 L170.1,87.1 L171.1,85.9 L172.1,84.7 L173.1,83.5 L174.1,82.6 L175.0,81.9 L176.0,81.2 L177.0,80.8 L178.0,80.9 L179.0,81.2 L180.0,81.4 L181.0,81.7 L182.0,81.6 L183.0,81.2 L184.0,80.7 L185.0,80.1 L186.0,79.4 L186.9,78.7 L187.9,77.9 L188.9,77.3 L189.9,76.9 L190.8,76.6 L191.8,76.3 L192.8,75.9 L193.7,75.3 L194.7,74.6 L195.6,73.9 L196.6,73.2 L197.6,72.4 L198.6,71.8 L199.6,71.3 L200.7,71.0 L201.7,70.7 L202.8,70.4 L203.8,70.2 L204.8,69.9 L205.8,69.6 L206.8,69.4 L207.8,69.1 L208.8,68.8 L209.8,68.5 L210.8,68.2 L211.8,67.9 L212.9,67.6 L213.9,67.3 L214.9,67.2 L216.0,67.2 L217.0,67.2 L217.9,67.2 L218.9,67.3 L219.8,67.3 L220.8,67.1 L221.8,66.7 L222.8,66.3 L223.9,65.7 L225.1,65.4 L226.2,65.6 L227.4,66.3 L228.5,67.4 L229.5,68.6 L230.5,69.9 L231.5,71.0 L232.4,72.0 L233.4,72.9 L234.3,73.5 L235.3,74.0 L236.3,74.7 L237.3,75.7 L238.3,76.7 L239.4,77.7 L240.4,78.7 L241.4,79.6 L242.4,80.4 L243.3,81.0 L244.3,81.6 L245.3,82.2 L246.3,82.9 L247.3,83.6 L248.4,84.4 L249.4,85.1 L250.4,85.9 L251.3,86.7 L252.3,87.6 L253.2,88.5 L254.2,89.4 L255.1,90.4 L256.0,91.4 L256.9,92.4 L257.8,93.4 L258.8,94.1 L259.8,94.9 L260.8,95.6 L261.8,96.2 L262.8,96.8 L263.8,97.4 L264.8,97.9 L265.8,98.5 L266.9,99.0 L267.9,99.5 L268.9,100.0 L269.9,100.5 L270.9,101.0 L272.0,101.5 L273.0,102.0 L274.0,102.5 L275.0,103.1 L276.0,103.7 L277.0,104.4 L278.0,105.0 L279.1,105.6 L280.1,106.3 L281.1,107.0 L282.1,107.6 L283.1,108.3 L284.2,108.9 L285.2,109.5 L286.2,110.1 L287.2,110.7 L288.2,111.4 L289.2,112.1 L290.2,112.8 L291.2,113.5 L292.2,114.3 L293.2,115.1 L294.2,116.0 L295.2,117.1 L296.2,118.2 L297.3,119.4 L298.2,121.0 L299.2,122.7 L300.2,124.3 L301.2,125.9 L302.2,127.3 L303.2,128.6 L304.2,129.9 L305.2,131.1 L306.2,132.2 L307.2,133.2 L308.2,134.1 L309.2,134.9 L310.2,135.8 L311.1,136.5 L312.1,137.2 L313.1,137.8 L314.1,138.3 L315.1,138.7 L316.1,139.0 L317.0,139.3 L318.0,139.6 L319.0,139.9 L320.0,140.4 L321.0,140.9 L322.0,141.5 L323.0,142.1 L324.0,142.7 L325.0,143.3 L326.0,143.8 L327.0,144.3 L328.0,144.7 L329.0,144.9 L330.0,145.1 L331.0,145.2 L332.0,145.2 L333.0,145.1 L334.0,144.9 L335.0,144.6 L336.0,144.4 L337.0,144.1 L338.0,143.9 L339.0,143.7 L340.0,143.4 L341.0,143.2 L342.0,142.9 L343.0,142.6 L344.0,142.4 L345.0,142.1 L346.0,141.8 L347.0,141.5 L348.0,141.2 L349.0,140.8 L350.0,140.4 L351.0,140.0 L352.0,139.5 L353.0,138.8 L354.0,137.9 L354.9,136.9 L355.9,135.8 L356.9,134.6 L357.9,133.5 L358.9,132.2 L359.9,130.9 L360.9,129.6 L361.9,128.2 L362.9,126.8 L363.9,125.4 L364.9,123.8 L365.9,122.2 L366.9,120.6 L367.9,119.0 L368.9,117.3 L369.9,115.6 L370.9,113.8 L371.9,112.1 L372.9,110.5 L373.8,108.9 L374.8,107.3 L375.8,105.4 L376.8,103.4 L377.9,101.3 L378.9,99.3 L379.9,97.3 L380.9,95.2 L381.9,93.1 L382.9,90.9 L383.9,88.7 L384.9,86.6 L385.9,84.7 L386.9,83.2 L387.9,81.9 L388.9,80.6 L389.9,79.5 L390.9,78.5 L391.9,77.5 L392.9,76.4 L393.9,75.3 L394.9,74.3 L395.9,73.4" stroke="#404040"/>
<path d="M57.0,84.6 L58.1,85.0 L59.1,85.4 L60.1,85.9 L61.1,86.4 L62.1,87.0 L63.1,87.7 L64.1,88.7 L65.1,89.9 L66.0,91.4 L67.0,92.9 L67.9,94.5 L68.8,96.3 L69.7,98.1 L70.6,100.2 L71.6,102.2 L72.5,104.3 L73.5,106.4 L74.5,108.3 L75.5,110.2 L76.5,112.0 L77.5,113.8 L78.5,115.6 L79.5,117.5 L80.6,119.4 L81.6,121.4 L82.6,123.4 L83.7,125.5 L84.7,127.8 L85.7,130.0 L86.8,132.1 L87.8,133.8 L88.8,135.5 L89.9,137.2 L90.9,138.9 L91.9,140.5 L92.9,141.9 L93.9,142.9 L94.9,143.8 L95.8,144.7 L96.9,145.6 L97.9,146.5 L98.9,147.2 L99.9,147.6 L101.0,148.1 L102.0,148.5 L103.0,149.0 L104.0,149.2 L105.0,149.5 L106.0,149.7 L107.0,149.8 L108.0,149.7 L109.0,149.4 L110.0,149.1 L110.9,148.8 L111.9,148.4 L112.8,148.0 L113.8,147.6 L114.7,147.0 L115.7,146.4 L116.6,145.8 L117.6,145.1 L118.5,144.4 L119.5,143.6 L120.5,142.9 L121.6,142.2 L122.6,141.6 L123.6,141.0 L124.7,140.5 L125.7,139.9 L126.7,139.4 L127.7,138.9 L128.8,138.4 L129.8,137.9 L130.8,137.4 L131.8,136.9 L132.9,136.4 L133.9,135.9 L134.9,135.4 L135.9,134.6 L136.9,133.8 L137.9,133.0 L139.0,132.1 L140.0,131.0 L140.9,129.9 L141.9,128.8 L142.9,127.7 L144.0,126.5 L145.0,125.2 L146.0,124.0 L147.0,122.8 L148.1,121.6 L149.1,120.3 L150.1,118.9 L151.1,117.4 L152.1,116.0 L153.1,114.5 L154.1,113.0 L155.1,111.4 L156.1,109.7 L157.2,108.1 L158.2,106.5 L159.2,104.8 L160.3,103.2 L161.3,101.5 L162.3,99.9 L163.3,98.2 L164.3,96.7 L165.3,95.2 L166.3,93.6 L167.3,92.0 L168.2,90.3 L169.2,88.7 L170.2,87.1 L171.1,85.9 L172.1,84.7 L173.1,83.5 L174.1,82.7 L175.1,82.0 L176.1,81.4 L177.1,81.1 L178.0,81.2 L179.0,81.5 L180.0,81.8 L181.0,82.0 L182.1,82.0 L183.1,81.5 L184.1,81.0 L185.1,80.4 L186.1,79.7 L187.1,79.0 L188.1,78.3 L189.1,77.8 L190.1,77.5 L191.1,77.3 L192.2,77.1 L193.2,76.9 L194.3,76.4 L195.4,75.8 L196.4,75.2 L197.5,74.6 L198.5,74.1 L199.5,73.5 L200.5,73.2 L201.4,72.9 L202.4,72.7 L203.4,72.4 L204.4,72.1 L205.4,71.7 L206.3,71.4 L207.3,71.1 L208.3,70.8 L209.3,70.5 L210.3,70.2 L211.3,70.0 L212.2,69.7 L213.2,69.4 L214.1,69.2 L215.1,69.2 L216.0,69.2 L217.0,69.2 L218.1,69.3 L219.2,69.3 L220.3,69.3 L221.4,69.0 L222.4,68.6 L223.4,68.2 L224.1,67.7 L224.8,67.4 L225.5,67.5 L226.3,68.0 L227.2,69.0 L228.1,70.1 L229.1,71.3 L230.1,72.4 L231.1,73.5 L232.1,74.4 L233.1,75.1 L234.1,75.5 L235.1,76.2 L236.1,77.2 L237.0,78.1 L238.0,79.1 L239.1,80.1 L240.1,81.1 L241.2,81.9 L242.2,82.6 L243.3,83.2 L244.3,83.8 L245.3,84.4 L246.3,85.1 L247.3,85.8 L248.4,86.4 L249.5,87.0 L250.6,87.7 L251.7,88.3 L252.8,89.0 L254.0,89.7 L255.1,90.4 L256.2,91.2 L257.3,91.9 L258.3,92.7 L259.4,93.4 L260.4,94.0 L261.4,94.7 L262.3,95.3 L263.3,95.9 L264.3,96.5 L265.3,97.1 L266.3,97.6 L267.3,98.1 L268.4,98.6 L269.4,99.1 L270.4,99.6 L271.4,100.1 L272.4,100.7 L273.4,101.2 L274.4,101.8 L275.4,102.5 L276.3,103.2 L277.3,103.9 L278.2,104.7 L279.2,105.5 L280.1,106.3 L281.0,107.1 L281.9,107.9 L282.8,108.7 L283.8,109.5 L284.7,110.2 L285.6,111.0 L286.5,111.7 L287.5,112.5 L288.4,113.2 L289.4,113.9 L290.4,114.6 L291.4,115.4 L292.4,116.1 L293.4,116.9 L294.3,117.9 L295.3,119.0 L296.3,120.1 L297.3,121.7 L298.3,123.3 L299.3,125.0 L300.3,126.5 L301.3,127.9 L302.3,129.3 L303.3,130.6 L304.4,131.8 L305.4,133.0 L306.4,134.0 L307.4,134.9 L308.5,135.8 L309.5,136.6 L310.6,137.3 L311.6,137.9 L312.7,138.6 L313.8,139.0 L314.8,139.3 L315.9,139.6 L316.9,139.8 L317.9,140.0 L318.9,140.2 L319.9,140.6 L320.9,141.1 L321.9,141.6 L322.9,142.2 L323.9,142.8 L324.9,143.4 L326.0,143.9 L327.0,144.3 L328.0,144.7 L329.0,144.9 L330.0,144.9 L331.0,145.0 L332.0,145.0 L333.0,144.8 L333.9,144.7 L334.9,144.5 L335.9,144.2 L337.0,144.0 L338.0,143.8 L339.0,143.6 L340.0,143.3 L340.9,143.1 L341.9,142.7 L342.9,142.4 L343.9,142.1 L344.9,141.7 L345.9,141.4 L346.9,141.1 L347.9,140.8 L348.9,140.5 L349.9,140.2 L351.0,139.9 L352.0,139.4 L353.0,138.8 L354.1,138.0 L355.1,137.1 L356.2,136.0 L357.2,134.9 L358.2,133.7 L359.1,132.4 L360.1,131.1 L361.1,129.7 L362.1,128.3 L363.1,126.9 L364.1,125.5 L365.1,123.9 L366.1,122.3 L367.0,120.7 L368.0,119.0 L369.0,117.3 L369.9,115.6 L370.9,113.8 L371.9,112.1 L372.9,110.5 L373.9,109.0 L375.0,107.4 L376.0,105.5 L377.0,103.4 L378.0,101.4 L379.0,99.4 L380.0,97.3 L380.9,95.2 L381.9,93.1 L382.9,90.9 L383.8,88.7 L384.8,86.6 L385.7,84.6 L386.7,83.0 L387.7,81.7 L388.6,80.4 L389.6,79.2 L390.6,78.1 L391.5,77.1 L392.5,76.1 L393.6,75.0 L394.6,73.9 L395.7,73.0" stroke="#0000ff"/>
<path d="M56.9,85.2 L57.9,85.6 L58.8,86.1 L59.8,86.5 L60.7,87.0 L61.6,87.6 L62.5,88.3 L63.5,89.3 L64.4,90.5 L65.4,91.8 L66.3,93.3 L67.3,94.8 L68.3,96.5 L69.3,98.3 L70.3,100.3 L71.3,102.3 L72.3,104.4 L73.4,106.5 L74.4,108.4 L75.4,110.3 L76.4,112.1 L77.4,113.9 L78.3,115.7 L79.3,117.6 L80.2,119.6 L81.2,121.6 L82.2,123.6 L83.2,125.8 L84.1,128.0 L85.1,130.3 L86.1,132.4 L87.1,134.2 L88.1,135.9 L89.1,137.6 L90.1,139.4 L91.1,141.1 L92.2,142.5 L93.2,143.5 L94.2,144.5 L95.2,145.4 L96.2,146.4 L97.3,147.3 L98.3,148.1 L99.3,148.7 L100.4,149.3 L101.5,149.8 L102.6,150.2 L103.7,150.4 L104.8,150.6 L105.9,150.7 L107.0,150.7 L108.1,150.5 L109.1,150.2 L110.1,149.9 L111.2,149.6 L112.2,149.2 L113.2,148.8 L114.2,148.4 L115.1,147.8 L116.1,147.1 L117.1,146.5 L118.0,145.8 L119.0,145.0 L119.9,144.2 L120.9,143.5 L121.9,142.8 L123.0,142.2 L124.0,141.6 L125.0,141.1 L126.0,140.5 L127.0,139.9 L128.0,139.4 L129.0,138.8 L130.0,138.2 L131.0,137.7 L131.9,137.1 L132.9,136.6 L133.9,136.0 L134.9,135.4 L135.9,134.6 L136.9,133.8 L137.9,133.0 L138.9,132.1 L140.0,131.0 L141.0,130.0 L142.0,128.9 L143.0,127.8 L144.0,126.6 L145.1,125.3 L146.1,124.1 L147.1,122.8 L148.1,121.6 L149.1,120.3 L150.1,118.9 L151.1,117.4 L152.1,116.0 L153.1,114.5 L154.1,113.0 L155.0,111.3 L156.0,109.6 L157.0,108.0 L158.0,106.3 L159.0,104.6 L160.0,103.0 L161.0,101.3 L162.0,99.7 L163.1,98.1 L164.1,96.5 L165.1,95.0 L166.1,93.5 L167.1,91.9 L168.1,90.3 L169.1,88.6 L170.1,87.1 L171.1,85.8 L172.1,84.6 L173.0,83.5 L174.0,82.6 L175.0,81.9 L176.0,81.2 L177.0,80.8 L178.0,80.9 L179.0,81.2 L180.0,81.4 L181.0,81.6 L182.0,81.6 L183.0,81.2 L184.0,80.6 L185.0,80.1 L185.9,79.4 L186.9,78.6 L187.9,77.9 L188.9,77.4 L189.9,77.1 L190.9,76.7 L191.9,76.4 L192.9,76.1 L193.8,75.5 L194.8,74.9 L195.8,74.2 L196.8,73.5 L197.8,72.9 L198.8,72.2 L199.9,71.8 L200.9,71.5 L201.9,71.2 L202.9,70.8 L203.9,70.5 L204.9,70.2 L205.9,69.8 L206.9,69.5 L207.9,69.3 L208.9,69.0 L209.9,68.7 L210.9,68.5 L211.9,68.3 L212.9,68.0 L214.0,67.9 L215.0,67.8 L216.0,67.9 L217.0,67.9 L218.0,67.9 L219.0,67.9 L219.9,67.8 L220.9,67.3 L221.8,66.8 L222.8,66.2 L223.9,65.5 L225.1,65.1 L226.4,65.2 L227.6,65.9 L228.8,67.0 L229.9,68.3 L230.9,69.5 L231.9,70.5 L232.9,71.4 L233.8,72.3 L234.8,72.9 L235.8,73.4 L236.8,74.1 L237.8,75.1 L238.9,76.2 L239.9,77.2 L240.9,78.1 L241.8,79.1 L242.8,79.8 L243.8,80.4 L244.8,81.0 L245.8,81.6 L246.8,82.2 L247.8,83.0 L248.8,83.7 L249.8,84.5 L250.8,85.3 L251.9,86.1 L252.9,86.9 L254.0,87.7 L255.0,88.5 L256.0,89.3 L257.0,90.2 L258.0,91.1 L258.9,92.0 L259.9,92.7 L260.8,93.4 L261.8,94.0 L262.8,94.7 L263.7,95.3 L264.7,95.8 L265.7,96.4 L266.7,97.0 L267.6,97.6 L268.6,98.1 L269.6,98.7 L270.6,99.2 L271.6,99.8 L272.6,100.3 L273.6,100.9 L274.6,101.4 L275.6,102.0 L276.6,102.7 L277.7,103.4 L278.7,104.1 L279.7,104.7 L280.7,105.4 L281.7,106.1 L282.7,106.8 L283.7,107.4 L284.7,108.0 L285.7,108.7 L286.7,109.3 L287.7,109.9 L288.7,110.6 L289.7,111.3 L290.7,112.1 L291.7,112.9 L292.7,113.7 L293.7,114.6 L294.7,115.5 L295.8,116.6 L296.8,117.8 L297.8,119.0 L298.8,120.6 L299.8,122.3 L300.7,124.0 L301.7,125.6 L302.6,127.0 L303.6,128.4 L304.5,129.7 L305.4,130.9 L306.4,132.0 L307.4,133.0 L308.3,133.9 L309.3,134.8 L310.3,135.6 L311.3,136.3 L312.3,136.9 L313.2,137.6 L314.2,138.1 L315.2,138.4 L316.1,138.7 L317.1,139.1 L318.1,139.4 L319.1,139.7 L320.1,140.1 L321.1,140.7 L322.1,141.3 L323.1,142.0 L324.1,142.6 L325.0,143.2 L326.0,143.8 L327.0,144.3 L328.0,144.8 L329.0,145.1 L330.0,145.4 L331.0,145.5 L332.0,145.6 L333.0,145.4 L334.0,145.2 L335.0,145.0 L336.1,144.7 L337.1,144.4 L338.1,144.2 L339.1,144.0 L340.1,143.8 L341.1,143.6 L342.1,143.3 L343.1,143.0 L344.1,142.8 L345.1,142.5 L346.1,142.2 L347.2,142.0 L348.2,141.7 L349.3,141.4 L350.3,141.0 L351.4,140.6 L352.4,140.1 L353.4,139.4 L354.5,138.5 L355.5,137.5 L356.6,136.4 L357.6,135.2 L358.6,134.1 L359.7,132.9 L360.7,131.6 L361.8,130.2 L362.8,128.8 L363.7,127.4 L364.7,125.9 L365.7,124.3 L366.7,122.7 L367.7,121.1 L368.7,119.4 L369.7,117.7 L370.7,116.1 L371.7,114.3 L372.7,112.6 L373.7,111.0 L374.7,109.4 L375.7,107.8 L376.7,105.8 L377.7,103.8 L378.7,101.8 L379.7,99.7 L380.7,97.6 L381.7,95.6 L382.7,93.4 L383.7,91.3 L384.7,89.1 L385.7,87.0 L386.7,85.2 L387.7,83.7 L388.7,82.4 L389.7,81.3 L390.7,80.2 L391.7,79.2 L392.7,78.3 L393.7,77.2 L394.6,76.2 L395.5,75.2 L396.4,74.3" stroke="#008000"/>
<path d="M56.8,85.8 L57.7,86.1 L58.6,86.6 L59.5,87.0 L60.4,87.4 L61.4,88.0 L62.3,88.6 L63.2,89.6 L64.2,90.7 L65.1,92.0 L66.1,93.4 L67.1,95.0 L68.1,96.7 L69.0,98.5 L70.0,100.5 L71.0,102.5 L72.0,104.6 L72.9,106.7 L73.9,108.6 L75.0,110.5 L76.0,112.3 L77.1,114.1 L78.1,115.9 L79.2,117.7 L80.2,119.6 L81.3,121.6 L82.3,123.5 L83.4,125.7 L84.5,127.9 L85.6,130.1 L86.7,132.1 L87.8,133.8 L88.9,135.5 L90.0,137.1 L91.1,138.7 L92.2,140.3 L93.2,141.6 L94.3,142.5 L95.3,143.4 L96.3,144.2 L97.4,145.0 L98.4,145.8 L99.4,146.3 L100.5,146.8 L101.4,147.1 L102.4,147.6 L103.3,148.0 L104.3,148.3 L105.2,148.6 L106.1,148.9 L107.0,149.2 L108.0,149.2 L108.9,149.1 L109.9,149.0 L111.0,148.9 L112.0,148.7 L113.0,148.5 L114.1,148.2 L115.2,147.9 L116.2,147.4 L117.3,146.9 L118.4,146.4 L119.4,145.7 L120.5,145.0 L121.5,144.3 L122.5,143.5 L123.4,142.9 L124.4,142.3 L125.4,141.7 L126.3,141.1 L127.3,140.5 L128.3,139.9 L129.3,139.3 L130.2,138.7 L131.2,138.1 L132.1,137.5 L133.1,136.9 L134.1,136.2 L135.0,135.6 L136.0,134.7 L136.9,133.8 L137.8,132.8 L138.7,131.8 L139.6,130.7 L140.5,129.5 L141.3,128.3 L142.3,127.1 L143.2,125.9 L144.2,124.6 L145.2,123.3 L146.2,122.1 L147.2,120.9 L148.2,119.6 L149.1,118.2 L150.1,116.7 L151.1,115.3 L152.1,113.8 L153.1,112.3 L154.1,110.7 L155.1,109.1 L156.1,107.5 L157.2,105.8 L158.3,104.2 L159.3,102.6 L160.4,101.0 L161.4,99.3 L162.4,97.7 L163.4,96.1 L164.4,94.6 L165.3,93.0 L166.3,91.4 L167.2,89.7 L168.2,88.0 L169.2,86.4 L170.2,85.1 L171.2,83.9 L172.2,82.6 L173.3,81.7 L174.4,80.9 L175.6,80.1 L176.8,79.6 L177.9,79.7 L179.0,80.0 L180.0,80.3 L180.9,80.5 L181.8,80.6 L182.7,80.2 L183.6,79.8 L184.5,79.3 L185.5,78.7 L186.6,78.0 L187.6,77.3 L188.6,76.8 L189.6,76.4 L190.7,76.1 L191.6,75.8 L192.6,75.5 L193.5,75.0 L194.5,74.3 L195.5,73.6 L196.5,73.0 L197.5,72.3 L198.5,71.6 L199.6,71.2 L200.7,70.9 L201.7,70.6 L202.7,70.3 L203.7,70.0 L204.7,69.7 L205.8,69.5 L206.8,69.2 L207.8,68.9 L208.8,68.6 L209.8,68.3 L210.8,68.1 L211.8,67.8 L212.9,67.6 L213.9,67.4 L214.9,67.3 L216.0,67.3 L217.0,67.3 L217.9,67.3 L218.9,67.4 L219.8,67.4 L220.8,67.1 L221.8,66.7 L222.8,66.2 L223.9,65.6 L225.1,65.3 L226.3,65.5 L227.5,66.2 L228.6,67.3 L229.6,68.6 L230.6,69.8 L231.6,70.9 L232.5,71.9 L233.5,72.8 L234.4,73.4 L235.4,73.9 L236.4,74.6 L237.4,75.6 L238.4,76.7 L239.4,77.7 L240.4,78.7 L241.3,79.7 L242.3,80.5 L243.3,81.1 L244.2,81.7 L245.2,82.4 L246.2,83.1 L247.2,83.8 L248.2,84.5 L249.2,85.3 L250.2,86.1 L251.2,86.9 L252.2,87.8 L253.1,88.7 L254.0,89.6 L255.0,90.5 L255.9,91.5 L256.9,92.4 L257.9,93.3 L258.8,94.1 L259.9,94.7 L260.9,95.4 L261.9,96.0 L262.9,96.6 L263.9,97.2 L264.9,97.8 L265.9,98.4 L266.9,98.9 L267.9,99.5 L268.9,100.1 L269.8,100.6 L270.8,101.2 L271.8,101.7 L272.8,102.2 L273.8,102.7 L274.8,103.3 L275.8,104.0 L276.8,104.6 L277.8,105.3 L278.9,105.9 L279.9,106.6 L280.9,107.2 L282.0,107.9 L283.0,108.5 L284.0,109.1 L285.0,109.7 L286.1,110.3 L287.1,110.9 L288.1,111.5 L289.2,112.2 L290.2,112.8 L291.2,113.5 L292.2,114.3 L293.3,115.1 L294.3,116.0 L295.3,117.1 L296.3,118.2 L297.2,119.4 L298.2,121.0 L299.2,122.7 L300.2,124.4 L301.1,125.9 L302.1,127.4 L303.1,128.8 L304.0,130.0 L305.0,131.2 L306.0,132.4 L307.0,133.4 L308.0,134.3 L309.0,135.1 L310.0,135.9 L311.0,136.7 L312.0,137.4 L313.0,138.0 L314.0,138.6 L315.0,139.0 L315.9,139.3 L316.9,139.6 L317.9,139.9 L318.9,140.3 L319.8,140.8 L320.8,141.4 L321.7,142.0 L322.7,142.6 L323.7,143.3 L324.6,144.0 L325.7,144.6 L326.7,145.1 L327.7,145.5 L328.8,145.8 L329.9,145.9 L331.0,146.1 L332.0,146.1 L333.1,145.9 L334.1,145.7 L335.2,145.5 L336.2,145.2 L337.2,144.9 L338.2,144.7 L339.2,144.4 L340.2,144.2 L341.2,143.9 L342.2,143.6 L343.2,143.3 L344.2,143.1 L345.2,142.8 L346.2,142.4 L347.2,142.1 L348.2,141.8 L349.2,141.4 L350.3,140.9 L351.3,140.5 L352.3,139.9 L353.3,139.2 L354.3,138.3 L355.3,137.3 L356.3,136.2 L357.3,135.0 L358.3,133.8 L359.3,132.6 L360.3,131.2 L361.3,129.9 L362.3,128.5 L363.3,127.1 L364.3,125.6 L365.3,124.1 L366.3,122.5 L367.3,120.9 L368.4,119.2 L369.4,117.6 L370.4,115.9 L371.4,114.1 L372.4,112.4 L373.4,110.8 L374.4,109.3 L375.4,107.6 L376.4,105.7 L377.4,103.6 L378.4,101.6 L379.4,99.5 L380.4,97.5 L381.3,95.4 L382.3,93.2 L383.3,91.0 L384.2,88.8 L385.2,86.8 L386.1,84.9 L387.1,83.3 L388.1,82.0 L389.1,80.8 L390.1,79.7 L391.2,78.7 L392.2,77.8 L393.2,76.7 L394.2,75.7 L395.1,74.7 L396.1,73.8" stroke="#ff0000"/>
</g>
<g fill="none" stroke="#161616" stroke-width="1.35">
<rect x="55.2" y="7.6" width="342.50" height="204.80"/>
<path d="M112.28,212.4 V208.70000000000002"/><path d="M112.28,7.6 V11.3"/>
<path d="M169.37,212.4 V208.70000000000002"/><path d="M169.37,7.6 V11.3"/>
<path d="M226.45,212.4 V208.70000000000002"/><path d="M226.45,7.6 V11.3"/>
<path d="M283.53,212.4 V208.70000000000002"/><path d="M283.53,7.6 V11.3"/>
<path d="M340.62,212.4 V208.70000000000002"/><path d="M340.62,7.6 V11.3"/>
<path d="M55.2,161.20 H58.900000000000006"/><path d="M397.7,161.20 H394.0"/>
<path d="M55.2,110.00 H58.900000000000006"/><path d="M397.7,110.00 H394.0"/>
<path d="M55.2,58.80 H58.900000000000006"/><path d="M397.7,58.80 H394.0"/>
</g>
<text x="55.2" y="232.55" text-anchor="middle">150</text>
<text x="43.2" y="232.55" text-anchor="end">−</text>
<text x="112.3" y="232.55" text-anchor="middle">100</text>
<text x="100.3" y="232.55" text-anchor="end">−</text>
<text x="169.4" y="232.55" text-anchor="middle">50</text>
<text x="161.4" y="232.55" text-anchor="end">−</text>
<text x="226.4" y="232.55" text-anchor="middle">0</text>
<text x="283.5" y="232.55" text-anchor="middle">50</text>
<text x="340.6" y="232.55" text-anchor="middle">100</text>
<text x="398.2" y="232.55" text-anchor="middle">150</text>
<text x="50" y="218.2" text-anchor="end">−40</text>
<text x="50" y="167.0" text-anchor="end">−20</text>
<text x="50" y="115.8" text-anchor="end">0</text>
<text x="50" y="64.6" text-anchor="end">20</text>
<text x="50" y="13.4" text-anchor="end">40</text>
<text x="183.0" y="250.9">Position<tspan dx="1.2">/</tspan><tspan dx="1.4">mm</tspan></text>
<text transform="translate(13.9,144.9) rotate(-90)" style="font-size:16.4px">Profile<tspan dx="1.3">/</tspan><tspan dx="0.2">nm</tspan></text>
</svg>
</body></html>
